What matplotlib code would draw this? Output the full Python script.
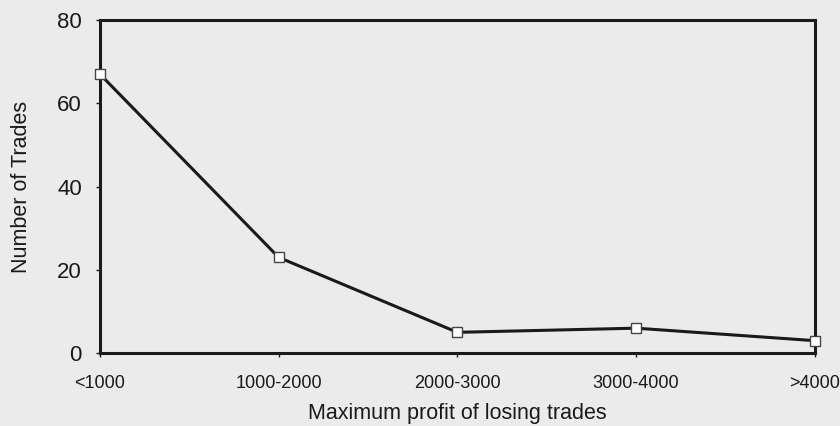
import matplotlib
matplotlib.use("Agg")
import matplotlib.pyplot as plt

categories = ["<1000", "1000-2000", "2000-3000", "3000-4000", ">4000"]
trades = [67, 23, 5, 6, 3]
y_ticks = [0, 20, 40, 60, 80]

plt.rcParams['font.family'] = ['Liberation Sans', 'DejaVu Sans']
bg = '#ebebeb'
dark = '#1a1a1a'

fig = plt.figure(figsize=(8.4, 4.26), dpi=100, facecolor=bg)
ax = fig.add_axes([0.119, 0.171, 0.851, 0.782], facecolor=bg)

x = list(range(len(categories)))
ax.plot(x, trades, color=dark, lw=2.2, marker='s', markersize=6.5,
        markerfacecolor='white', markeredgecolor='#444444', markeredgewidth=1.0,
        clip_on=False, zorder=3)

ax.set_xlim(0, len(categories) - 1)
ax.set_ylim(0, 80)
ax.set_xticks(x)
ax.set_xticklabels(categories, fontsize=13)
ax.set_yticks(y_ticks)
ax.set_yticklabels([str(v) for v in y_ticks], fontsize=16)
for s in ax.spines.values():
    s.set_linewidth(2.2)
    s.set_color(dark)
ax.tick_params(axis='x', direction='out', length=3, width=1, colors=dark, pad=13)
ax.tick_params(axis='y', direction='out', length=3, width=1, colors=dark, pad=10)
ax.set_xlabel("Maximum profit of losing trades", fontsize=15.5, color=dark)
ax.set_ylabel("Number of Trades", fontsize=15.5, color=dark)
ax.xaxis.set_label_coords(0.5, -0.15)
ax.yaxis.set_label_coords(-0.095, 0.5)

fig.savefig("out.png", dpi=100, facecolor=bg)
